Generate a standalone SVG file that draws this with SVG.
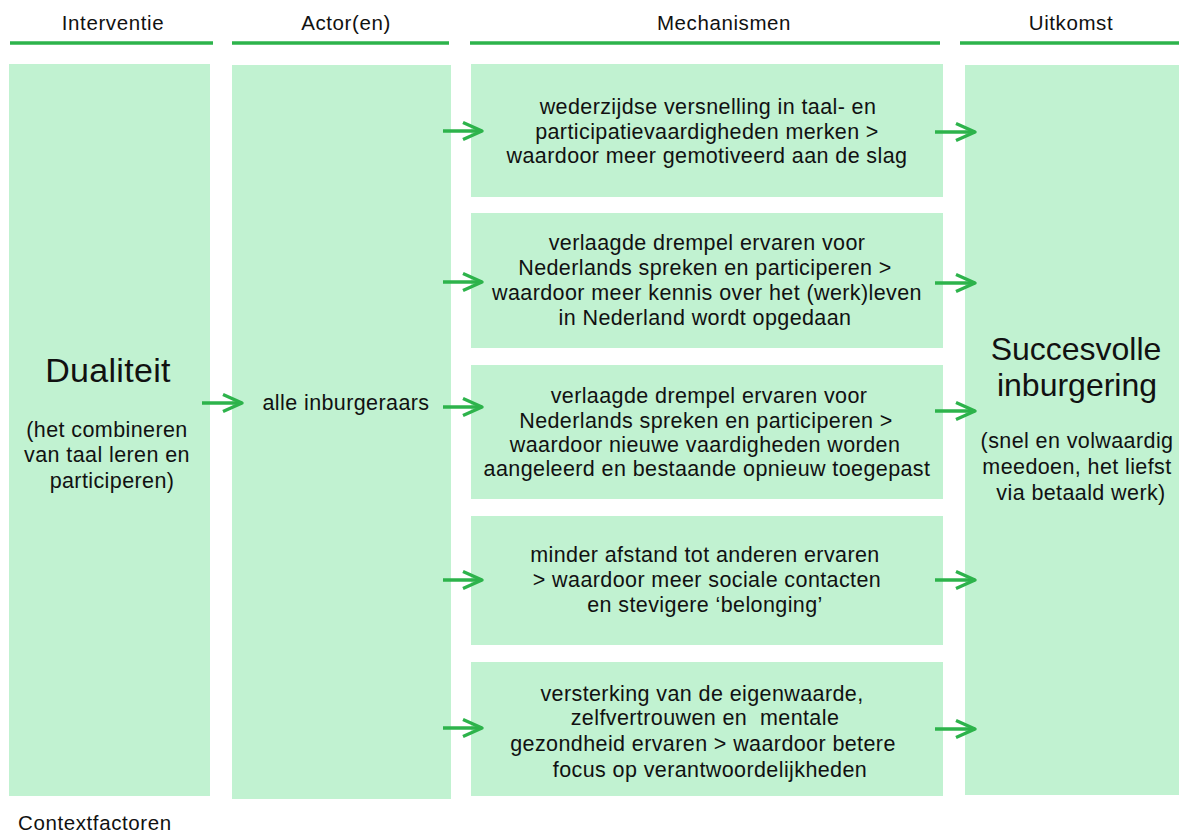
<svg xmlns="http://www.w3.org/2000/svg" width="1179" height="834" viewBox="0 0 1179 834">
<style>
.box{fill:#c1f2d1}
.hdr{font-family:"Liberation Sans",Arial,sans-serif;font-size:20.5px;letter-spacing:0.6px;fill:#111;text-anchor:middle}
.hl{stroke:#2db34b;stroke-width:3.5}
.t{font-family:"Liberation Sans",Arial,sans-serif;font-size:21.5px;letter-spacing:0.4px;fill:#111;text-anchor:middle}
.big{font-family:"Liberation Sans",Arial,sans-serif;font-size:32px;fill:#111;text-anchor:middle}
.ctx{font-family:"Liberation Sans",Arial,sans-serif;font-size:20.5px;letter-spacing:0.6px;fill:#111}
.arr{stroke:#2db34b;stroke-width:3.4;fill:none;marker-end:url(#ah)}
</style>
<defs>
<marker id="ah" markerUnits="userSpaceOnUse" markerWidth="24" markerHeight="22" refX="19" refY="8.5" orient="auto" overflow="visible">
<path d="M0,0 L19,8.5 L0,17" fill="none" stroke="#2db34b" stroke-width="3.4" stroke-linejoin="round"/>
</marker>
</defs>
<rect width="1179" height="834" fill="#ffffff"/>

<g id="headers">
<text class="hdr" x="113" y="30">Interventie</text>
<line class="hl" x1="10" y1="43" x2="213" y2="43"/>
<text class="hdr" x="346" y="30">Actor(en)</text>
<line class="hl" x1="232" y1="43" x2="449" y2="43"/>
<text class="hdr" x="724" y="30">Mechanismen</text>
<line class="hl" x1="470" y1="43" x2="940" y2="43"/>
<text class="hdr" x="1071" y="30">Uitkomst</text>
<line class="hl" x1="960" y1="43" x2="1179" y2="43"/>
</g>

<g id="interventie">
<rect class="box" x="9" y="64" width="201" height="732"/>
<text class="big" x="108" y="382" style="font-size:34px;letter-spacing:0.3px">Dualiteit</text>
<text class="t" x="107" y="437">(het combineren</text>
<text class="t" x="107" y="462">van taal leren en</text>
<text class="t" x="112" y="488">participeren)</text>
</g>

<g id="actor">
<rect class="box" x="232" y="65" width="219" height="734"/>
<text class="t" x="346" y="410">alle inburgeraars</text>
</g>

<g id="mech1">
<rect class="box" x="471" y="64" width="472" height="133"/>
<text class="t" x="708" y="114">wederzijdse versnelling in taal- en</text>
<text class="t" x="707" y="139">participatievaardigheden merken &gt;</text>
<text class="t" x="707" y="163">waardoor meer gemotiveerd aan de slag</text>
</g>

<g id="mech2">
<rect class="box" x="471" y="213" width="472" height="135"/>
<text class="t" x="707" y="250">verlaagde drempel ervaren voor</text>
<text class="t" x="705" y="275">Nederlands spreken en participeren &gt;</text>
<text class="t" x="707" y="300">waardoor meer kennis over het (werk)leven</text>
<text class="t" x="705" y="325">in Nederland wordt opgedaan</text>
</g>

<g id="mech3">
<rect class="box" x="471" y="365" width="472" height="134"/>
<text class="t" x="709" y="403">verlaagde drempel ervaren voor</text>
<text class="t" x="706" y="428">Nederlands spreken en participeren &gt;</text>
<text class="t" x="705" y="452">waardoor nieuwe vaardigheden worden</text>
<text class="t" x="707" y="476">aangeleerd en bestaande opnieuw toegepast</text>
</g>

<g id="mech4">
<rect class="box" x="471" y="516" width="472" height="129"/>
<text class="t" x="705" y="562">minder afstand tot anderen ervaren</text>
<text class="t" x="707" y="587">&gt; waardoor meer sociale contacten</text>
<text class="t" x="705" y="612">en stevigere ‘belonging’</text>
</g>

<g id="mech5">
<rect class="box" x="471" y="662" width="472" height="134"/>
<text class="t" x="702" y="701">versterking van de eigenwaarde,</text>
<text class="t" x="705" y="725" xml:space="preserve">zelfvertrouwen en  mentale</text>
<text class="t" x="703" y="751">gezondheid ervaren &gt; waardoor betere</text>
<text class="t" x="710" y="777">focus op verantwoordelijkheden</text>
</g>

<g id="uitkomst">
<rect class="box" x="965" y="65" width="214" height="730"/>
<text class="big" x="1076" y="360">Succesvolle</text>
<text class="big" x="1077" y="396">inburgering</text>
<text class="t" x="1077" y="448">(snel en volwaardig</text>
<text class="t" x="1077" y="474">meedoen, het liefst</text>
<text class="t" x="1081" y="500">via betaald werk)</text>
</g>

<g id="context">
<text class="ctx" x="18" y="830">Contextfactoren</text>
</g>

<g id="connectors">
<line class="arr" x1="202" y1="403" x2="242" y2="403"/>
<line class="arr" x1="443" y1="131" x2="482" y2="131"/>
<line class="arr" x1="443" y1="282" x2="482" y2="282"/>
<line class="arr" x1="443" y1="407" x2="482" y2="407"/>
<line class="arr" x1="443" y1="580" x2="482" y2="580"/>
<line class="arr" x1="443" y1="728" x2="482" y2="728"/>
<line class="arr" x1="935" y1="132" x2="975" y2="132"/>
<line class="arr" x1="935" y1="283" x2="975" y2="283"/>
<line class="arr" x1="935" y1="411" x2="975" y2="411"/>
<line class="arr" x1="935" y1="580" x2="975" y2="580"/>
<line class="arr" x1="935" y1="729" x2="975" y2="729"/>
</g>
</svg>
